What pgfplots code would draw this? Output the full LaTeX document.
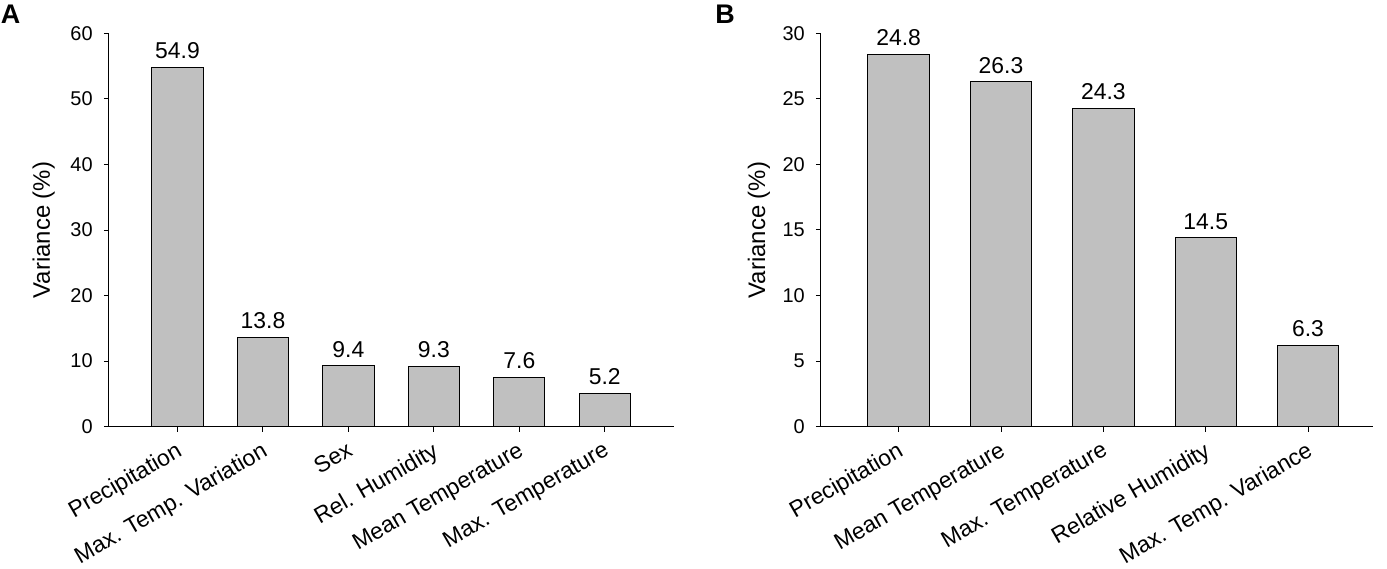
\documentclass[border=0pt]{standalone}
\usepackage{fontspec}
\setmainfont{Liberation Sans}
\usepackage{pgfplots}
\pgfplotsset{compat=1.18}
\definecolor{barfill}{RGB}{192,192,192}
\pgfplotsset{
  panel/.style={
    scale only axis,
    axis x line*=bottom, axis y line*=left,
    axis line style={line width=1bp, black},
    tick align=outside,
    major tick length=5bp,
    tick style={line width=1bp, black},
    ybar, bar width=0.6,
    ymin=0,
    xtick=data,
    /pgf/number format/assume math mode=true,
    yticklabel style={font=\fontsize{20}{24}\selectfont, inner sep=0pt, anchor=east, xshift=-11bp},
    xticklabel style={font=\fontsize{23}{27}\selectfont, xshift=-2.5bp, yshift=-9bp, rotate=30, anchor=north east, inner sep=0pt},
    ylabel={Variance (\%)},
    ylabel style={font=\fontsize{24}{28}\selectfont, anchor=center},
    nodes near coords={\pgfplotspointmeta},
    point meta=explicit symbolic,
    every node near coord/.append style={font=\fontsize{23}{26}\selectfont, anchor=south, inner sep=0pt, yshift=8bp, text=black},
  }
}
\begin{document}
\begin{tikzpicture}
\useasboundingbox (0,0) rectangle (1387bp,569bp);
\begin{axis}[panel,
  at={(108.8bp,142.3bp)}, anchor=south west,
  width=565.2bp, height=393.4bp,
  xmin=-0.804, xmax=5.81, ymax=60, ytick={0,10,...,60},
  xticklabels={Precipitation,Max. Temp. Variation,Sex,Rel. Humidity,Mean Temperature,Max. Temperature},
  ylabel style={at={(axis description cs:-0.115,0.5)}},
]
\addplot[fill=barfill, draw=black, line width=1bp] coordinates {(0,54.8) [54.9] (1,13.6) [13.8] (2,9.3) [9.4] (3,9.2) [9.3] (4,7.5) [7.6] (5,5.1) [5.2]};
\end{axis}
\begin{axis}[panel,
  at={(820.9bp,142.3bp)}, anchor=south west,
  width=551.6bp, height=393.4bp,
  xmin=-0.76, xmax=4.63, ymax=30, ytick={0,5,...,30},
  xticklabels={Precipitation,Mean Temperature,Max. Temperature,Relative Humidity,Max. Temp. Variance},
  ylabel style={at={(axis description cs:-0.1124,0.5)}},
]
\addplot[fill=barfill, draw=black, line width=1bp] coordinates {(0,28.4) [24.8] (1,26.3) [26.3] (2,24.3) [24.3] (3,14.4) [14.5] (4,6.2) [6.3]};
\end{axis}
\node[font=\fontsize{27}{30}\selectfont\bfseries] at (10.5bp,554.5bp) {A};
\node[font=\fontsize{27}{30}\selectfont\bfseries] at (725bp,554.5bp) {B};
\end{tikzpicture}
\end{document}
